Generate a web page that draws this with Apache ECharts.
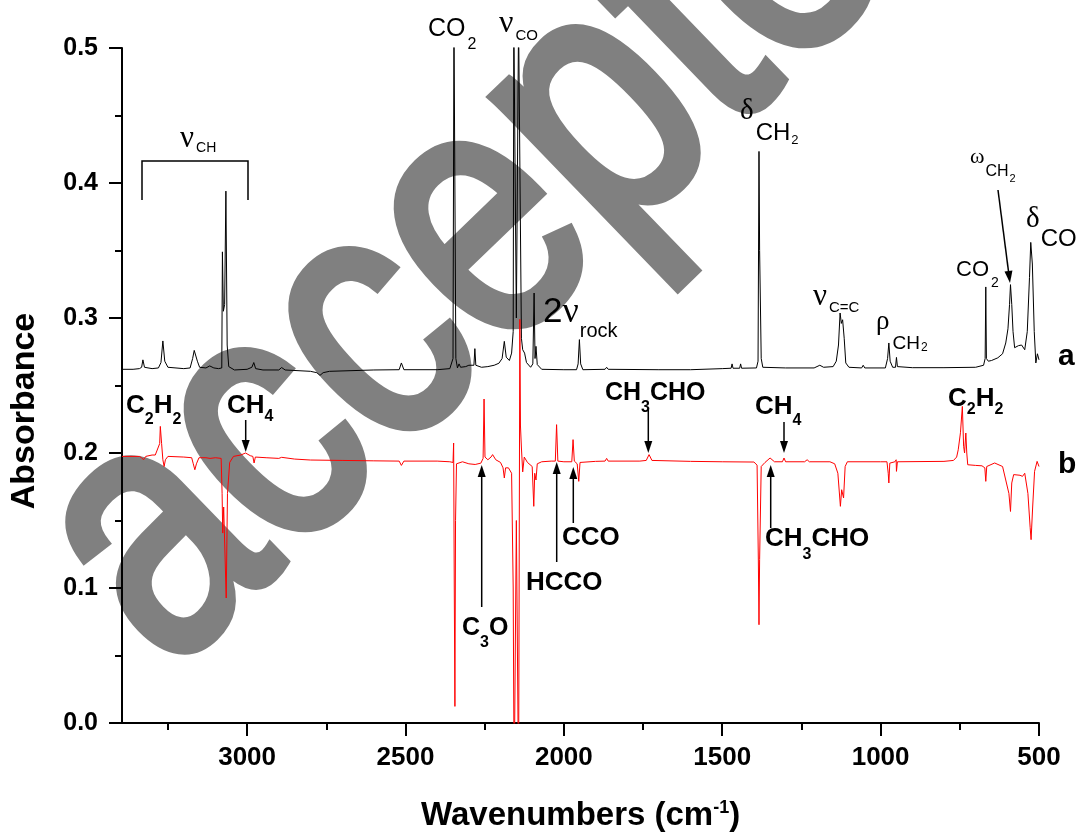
<!DOCTYPE html>
<html>
<head>
<meta charset="utf-8">
<title>IR spectra</title>
<script src="https://cdn.jsdelivr.net/npm/echarts@6/dist/echarts.min.js"></script>
<style>
  html, body { margin: 0; padding: 0; background: #fff; }
  #chart { width: 1078px; height: 836px; }
</style>
</head>
<body>
<div id="chart"></div>
<script>
// x tick labels (wavenumbers), major and minor tick positions
const majorTicks = [500, 1000, 1500, 2000, 2500, 3000];
const minorTicks = [750, 1250, 1750, 2250, 2750, 3250];

// spectrum a (black) : [wavenumber, absorbance]
const spectrumA = [
  [3395, 0.262], [3360, 0.262], [3340, 0.2625], [3333, 0.2635], [3329, 0.269], [3324, 0.2635],
  [3300, 0.2625], [3280, 0.263], [3272, 0.267], [3266, 0.283], [3260, 0.268], [3250, 0.2635],
  [3200, 0.2625], [3180, 0.263], [3172, 0.27], [3167, 0.276], [3162, 0.2755], [3157, 0.268],
  [3150, 0.2635], [3130, 0.263], [3118, 0.2645], [3105, 0.263], [3090, 0.2625], [3080, 0.263],
  [3078, 0.349], [3075, 0.305], [3071, 0.31], [3067, 0.394], [3063, 0.28], [3058, 0.264],
  [3040, 0.2615], [3000, 0.262], [2985, 0.2635], [2979, 0.267], [2973, 0.2625], [2950, 0.2615],
  [2900, 0.2615], [2891, 0.2633], [2880, 0.2615], [2800, 0.2605], [2780, 0.2595], [2770, 0.2575],
  [2760, 0.2595], [2740, 0.2605], [2600, 0.2615], [2520, 0.2617], [2513, 0.2667], [2505, 0.2617],
  [2400, 0.2617], [2360, 0.2625], [2350, 0.27], [2347, 0.52], [2344, 0.52], [2341, 0.27],
  [2336, 0.263], [2331, 0.266], [2326, 0.2635], [2310, 0.264], [2300, 0.265], [2284, 0.265],
  [2281, 0.2773], [2278, 0.265], [2260, 0.2635], [2240, 0.264], [2220, 0.265], [2205, 0.2665],
  [2195, 0.27], [2188, 0.2827], [2182, 0.271], [2172, 0.2685], [2165, 0.274], [2160, 0.29],
  [2158, 0.52], [2154, 0.52], [2150, 0.3], [2146, 0.3], [2143, 0.52], [2139, 0.52],
  [2134, 0.285], [2130, 0.2765], [2124, 0.274], [2118, 0.267], [2105, 0.2635], [2098, 0.266],
  [2094, 0.3185], [2091, 0.27], [2088, 0.279], [2084, 0.2655], [2070, 0.262], [2000, 0.2617],
  [1960, 0.2617], [1955, 0.266], [1951, 0.284], [1947, 0.266], [1940, 0.2617], [1870, 0.262],
  [1865, 0.2635], [1860, 0.262], [1700, 0.2617], [1600, 0.2617], [1599, 0.2625], [1500, 0.2625],
  [1472, 0.2628], [1469, 0.266], [1466, 0.2628], [1445, 0.2628], [1442, 0.266], [1439, 0.2628],
  [1392, 0.263], [1387, 0.268], [1384, 0.4234], [1382, 0.35], [1380, 0.349], [1377, 0.27],
  [1372, 0.2635], [1300, 0.263], [1210, 0.263], [1192, 0.265], [1180, 0.2635], [1150, 0.264],
  [1140, 0.268], [1133, 0.28], [1128, 0.3037], [1124, 0.296], [1120, 0.2987], [1115, 0.285],
  [1110, 0.2667], [1100, 0.2635], [1060, 0.263], [1055, 0.265], [1050, 0.263], [985, 0.263],
  [978, 0.27], [974, 0.2815], [970, 0.268], [962, 0.2635], [953, 0.2635], [950, 0.2708],
  [947, 0.264], [900, 0.2632], [800, 0.2632], [700, 0.2635], [675, 0.265], [670, 0.27],
  [668, 0.323], [666, 0.27], [660, 0.268], [650, 0.2685], [630, 0.2705], [615, 0.2735],
  [605, 0.2815], [598, 0.292], [593, 0.31], [590, 0.3247], [586, 0.31], [582, 0.29],
  [577, 0.278], [565, 0.2795], [555, 0.28], [545, 0.2765], [537, 0.29], [530, 0.33],
  [526, 0.356], [521, 0.34], [515, 0.29], [510, 0.2667], [505, 0.2735], [500, 0.269]
];

// spectrum b (red) : [wavenumber, absorbance]
const spectrumB = [
  [3395, 0.1975], [3340, 0.1975], [3333, 0.1965], [3327, 0.195], [3320, 0.1975], [3300, 0.1985],
  [3290, 0.1985], [3285, 0.2015], [3280, 0.2005], [3276, 0.207], [3274, 0.2197], [3270, 0.207],
  [3266, 0.195], [3262, 0.19], [3258, 0.195], [3250, 0.1975], [3200, 0.197], [3175, 0.1965],
  [3170, 0.192], [3165, 0.1876], [3160, 0.192], [3152, 0.1965], [3130, 0.1965], [3117, 0.196],
  [3100, 0.1965], [3082, 0.196], [3079, 0.17], [3077, 0.1407], [3074, 0.16], [3070, 0.16],
  [3066, 0.0926], [3062, 0.17], [3055, 0.193], [3043, 0.1975], [3020, 0.1985], [3005, 0.2],
  [2990, 0.198], [2982, 0.1975], [2978, 0.1926], [2974, 0.197], [2940, 0.1965], [2900, 0.196],
  [2891, 0.1968], [2850, 0.1955], [2800, 0.1948], [2700, 0.1945], [2600, 0.1942], [2520, 0.194],
  [2513, 0.1908], [2505, 0.194], [2400, 0.194], [2360, 0.1935], [2350, 0.193], [2348, 0.2074],
  [2346, 0.1], [2344, 0.0123], [2342, 0.15], [2339, 0.192], [2320, 0.1935], [2300, 0.192],
  [2280, 0.1915], [2262, 0.1925], [2255, 0.196], [2252, 0.24], [2249, 0.197], [2240, 0.195],
  [2230, 0.197], [2225, 0.1988], [2215, 0.195], [2200, 0.193], [2192, 0.189], [2188, 0.1815],
  [2184, 0.189], [2175, 0.189], [2165, 0.185], [2160, 0.1], [2157, -0.05], [2153, -0.05],
  [2150, 0.15], [2146, 0.15], [2143, -0.05], [2141, -0.05], [2139, 0.299], [2137, 0.22],
  [2134, 0.2037], [2130, 0.186], [2125, 0.197], [2115, 0.193], [2100, 0.19], [2095, 0.1605],
  [2092, 0.185], [2088, 0.18], [2084, 0.192], [2070, 0.1935], [2040, 0.194], [2027, 0.194],
  [2023, 0.221], [2019, 0.194], [2000, 0.1935], [1975, 0.1935], [1971, 0.2099], [1967, 0.194],
  [1958, 0.192], [1953, 0.179], [1949, 0.193], [1900, 0.1938], [1870, 0.194], [1865, 0.196],
  [1860, 0.194], [1760, 0.194], [1740, 0.1945], [1731, 0.1988], [1722, 0.1945], [1600, 0.1938],
  [1500, 0.1935], [1400, 0.1933], [1390, 0.191], [1386, 0.12], [1384, 0.0728], [1382, 0.121],
  [1380, 0.121], [1377, 0.19], [1365, 0.193], [1349, 0.1963], [1335, 0.1935], [1310, 0.1935],
  [1305, 0.1963], [1300, 0.1935], [1240, 0.1935], [1232, 0.195], [1225, 0.1935], [1160, 0.1935],
  [1145, 0.192], [1135, 0.185], [1127, 0.1605], [1123, 0.1728], [1117, 0.1667], [1112, 0.19],
  [1105, 0.1935], [1000, 0.1935], [980, 0.1935], [976, 0.185], [974, 0.1778], [971, 0.1925],
  [955, 0.1935], [951, 0.195], [950, 0.1864], [947, 0.1935], [800, 0.1938], [770, 0.1945],
  [760, 0.197], [755, 0.2024], [748, 0.215], [742, 0.2345], [738, 0.205], [735, 0.2],
  [731, 0.2148], [728, 0.2], [725, 0.1913], [700, 0.1908], [680, 0.1905], [671, 0.189],
  [668, 0.179], [665, 0.19], [640, 0.1926], [615, 0.19], [605, 0.18], [595, 0.17],
  [590, 0.1567], [586, 0.1778], [580, 0.184], [560, 0.1835], [552, 0.1827], [545, 0.185],
  [535, 0.17], [528, 0.145], [525, 0.1358], [520, 0.16], [514, 0.1864], [506, 0.1938], [500, 0.19]
];

const SANS = '"Liberation Sans", Arial, sans-serif'
const SERIF = '"Liberation Serif", "Times New Roman", serif'
const measure = document.createElement('canvas').getContext('2d')

// text made of pieces (sub / superscripts), x = left, y = baseline
// piece: [text, size, baseline shift, serif, extra gap before]
function label (x, y, parts, bold) {
  const out = []
  let cx = x
  parts.forEach(function (p) {
    const font = (bold ? 'bold ' : '') + p[1] + 'px ' + (p[3] ? SERIF : SANS)
    cx += p[4] || 0
    out.push({
      type: 'text',
      x: cx,
      y: y + p[2] - 0.35 * p[1],
      z: 100,
      silent: true,
      style: { text: p[0], font: font, fill: '#000', align: 'left', verticalAlign: 'middle', textAlign: 'left', textVerticalAlign: 'middle' }
    })
    measure.font = font
    cx += measure.measureText(p[0]).width
  })
  return out
}

function arrow (x1, y1, x2, y2) {
  const dx = x2 - x1
  const dy = y2 - y1
  const L = Math.hypot(dx, dy)
  const ux = dx / L
  const uy = dy / L
  const hl = 12
  const hw = 4
  const bx = x2 - ux * hl
  const by = y2 - uy * hl
  return [
    { type: 'line', z: 100, silent: true, shape: { x1: x1, y1: y1, x2: bx, y2: by }, style: { stroke: '#000', lineWidth: 1.5 } },
    { type: 'polygon', z: 100, silent: true, shape: { points: [[x2, y2], [bx - uy * hw, by + ux * hw], [bx + uy * hw, by - ux * hw]] }, style: { fill: '#000' } }
  ]
}

let graphics = []

// watermark
graphics.push({
  type: 'text',
  x: 100,
  y: 603,
  rotation: 44 * Math.PI / 180,
  scaleX: 0.97,
  scaleY: 1.2,
  z: -10,
  silent: true,
  style: {
    text: 'accepted', font: '300px ' + SANS, fill: '#808080', stroke: '#808080', lineWidth: 9, lineJoin: 'round',
    align: 'left', verticalAlign: 'middle', textAlign: 'left', textVerticalAlign: 'middle'
  }
})

// peak assignments, spectrum a
graphics = graphics.concat(
  label(428, 38, [['CO', 25, 0], ['2', 16, 12, 0, 2]]),
  label(499, 35, [['ν', 32, 0, 1], ['CO', 15, 6, 0, 2]]),
  label(543, 325, [['2', 35, 0], ['ν', 36, 0, 1], ['rock', 20, 13, 0, 1]]),
  label(740, 122, [['δ', 29, 0, 1], ['CH', 24, 20, 0, 2], ['2', 13, 23, 0, 1]]),
  label(813, 308, [['ν', 31, 0, 1], ['C=C', 15, 5, 0, 2]]),
  label(876, 331, [['ρ', 27, 0, 1], ['CH', 19, 19, 0, 3], ['2', 12, 21, 0, 1]]),
  label(956, 278, [['CO', 22, 0], ['2', 14, 10, 0, 2]]),
  label(970, 165, [['ω', 22, 0, 1], ['CH', 16, 12, 0, 1], ['2', 11, 18, 0, 1]]),
  label(1026, 230, [['δ', 29, 0, 1], ['CO', 24, 18, 0, 1]]),
  label(180, 150, [['ν', 31, 0, 1], ['CH', 14, 3, 0, 2]]),
  // products, spectrum b
  label(1058, 367, [['a', 30, 0]], true),
  label(1058, 475, [['b', 30, 0]], true),
  label(126, 415, [['C', 26, 0], ['2', 16, 10], ['H', 26, 0], ['2', 16, 10]], true),
  label(227, 415, [['CH', 26, 0], ['4', 16, 7]], true),
  label(605, 402, [['CH', 25, 0], ['3', 16, 11], ['CHO', 25, 0]], true),
  label(755, 416, [['CH', 26, 0], ['4', 16, 10]], true),
  label(948, 408, [['C', 26, 0], ['2', 16, 7], ['H', 26, 0], ['2', 16, 7]], true),
  label(462, 637, [['C', 25, 0], ['3', 16, 11], ['O', 25, 0]], true),
  label(526, 592, [['HCCO', 26, 0]], true),
  label(562, 547, [['CCO', 26, 0]], true),
  label(765, 548, [['CH', 26, 0], ['3', 16, 12], ['CHO', 26, 0]], true),
  // x axis name
  label(421, 827, [['Wavenumbers (cm', 33, 0], ['-1', 18, -13], [')', 33, 0]], true),
  arrow(245.7, 420, 245.7, 452),
  arrow(648.3, 410, 648.3, 453),
  arrow(784, 422, 784, 453),
  arrow(481.7, 607, 481.7, 465),
  arrow(556.7, 562, 556.7, 462),
  arrow(573.3, 523, 573.3, 467),
  arrow(770.7, 528, 770.7, 465),
  arrow(998, 190, 1010, 283)
)

graphics.push({
  type: 'text', x: 25, y: 411, rotation: Math.PI / 2, z: 100, silent: true,
  style: { text: 'Absorbance', font: 'bold 34px ' + SANS, fill: '#000', align: 'center', verticalAlign: 'middle', textAlign: 'center', textVerticalAlign: 'middle' }
})
// bracket over the CH stretches
graphics.push({
  type: 'polyline', z: 100, silent: true,
  shape: { points: [[142, 200], [142, 161], [248, 161], [248, 200]] },
  style: { stroke: '#000', lineWidth: 1.5, fill: null }
})

const axisBlack = { color: '#000', width: 2 }

const option = {
  backgroundColor: '#fff',
  animation: false,
  grid: { left: 122, right: 39, top: 48, bottom: 113 },
  xAxis: [
    {
      type: 'value',
      min: 500,
      max: 3395,
      interval: 500,
      inverse: true,
      axisLine: { show: true, onZero: false, lineStyle: axisBlack },
      axisTick: { show: true, length: 13, lineStyle: axisBlack, customValues: majorTicks },
      axisLabel: {
        customValues: majorTicks,
        color: '#000',
        fontFamily: SANS,
        fontWeight: 'bold',
        fontSize: 26,
        margin: 22,
        formatter: function (v) { return String(v) }
      },
      splitLine: { show: false }
    },
    {
      type: 'value',
      min: 500,
      max: 3395,
      interval: 500,
      inverse: true,
      position: 'bottom',
      axisLine: { show: false },
      axisTick: { show: true, length: 7, lineStyle: axisBlack, customValues: minorTicks },
      axisLabel: { show: false },
      splitLine: { show: false }
    }
  ],
  yAxis: {
    type: 'value',
    min: 0,
    max: 0.5,
    interval: 0.1,
    axisLine: { show: true, onZero: false, lineStyle: axisBlack },
    axisTick: { show: true, length: 13, lineStyle: axisBlack },
    minorTick: { show: true, splitNumber: 2, length: 7, lineStyle: axisBlack },
    axisLabel: {
      color: '#000',
      fontFamily: SANS,
      fontWeight: 'bold',
      fontSize: 25,
      margin: 24,
      formatter: function (v) { return v.toFixed(1) }
    },
    splitLine: { show: false }
  },
  series: [
    {
      name: 'a',
      type: 'line',
      data: spectrumA,
      showSymbol: false,
      clip: true,
      lineStyle: { color: '#000', width: 1 },
      z: 3
    },
    {
      name: 'b',
      type: 'line',
      data: spectrumB,
      showSymbol: false,
      clip: true,
      lineStyle: { color: '#ff0000', width: 1 },
      z: 4
    }
  ],
  graphic: { elements: graphics }
}

const myChart = echarts.init(document.getElementById('chart'))
myChart.setOption(option)
</script>
</body>
</html>
